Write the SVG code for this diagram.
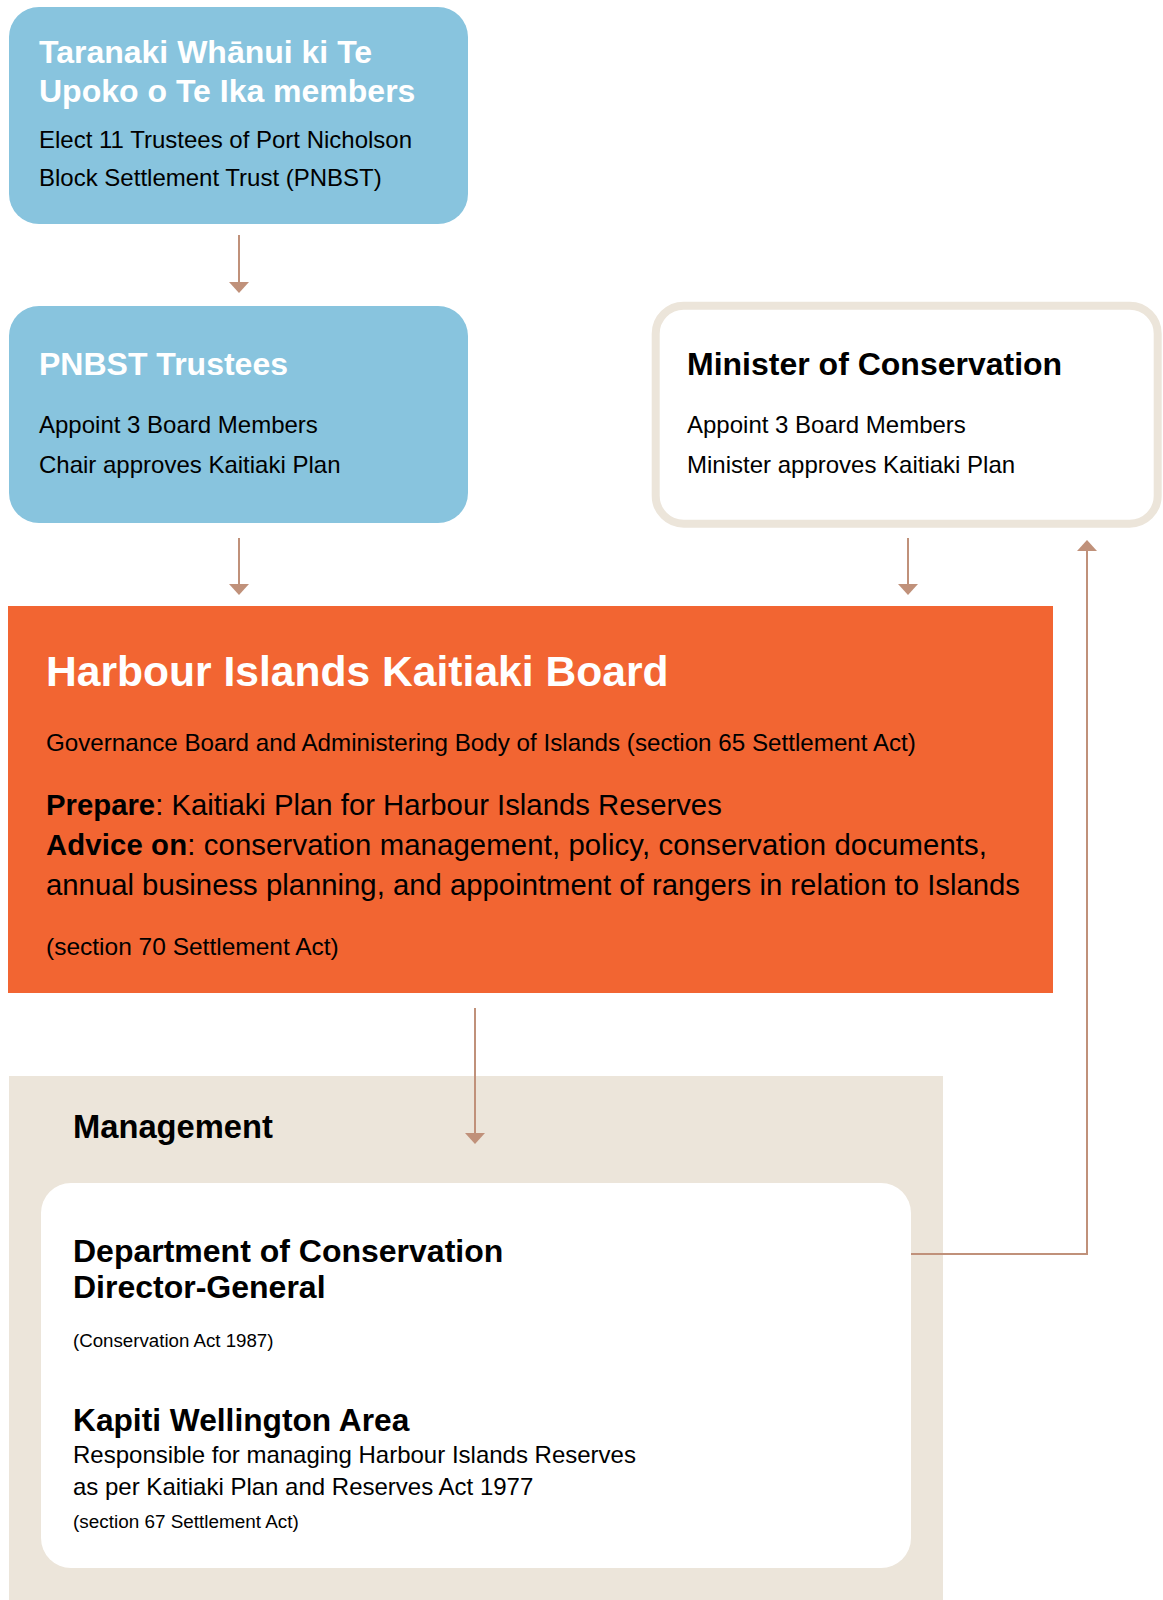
<svg xmlns="http://www.w3.org/2000/svg" width="1163" height="1600" viewBox="0 0 1163 1600">
  <defs>
    <marker id="ah" viewBox="0 0 11 20" refX="0" refY="10" markerWidth="11" markerHeight="20" markerUnits="userSpaceOnUse" orient="auto">
      <path d="M0,0 L11,10 L0,20 Z" fill="#c0917a"/>
    </marker>
    <style>
      text { font-family: "Liberation Sans", Arial, Helvetica, sans-serif; }
      .blue { fill: #88c4de; }
      .wt { fill: #ffffff; font-weight: bold; font-size: 32px; }
      .bt { fill: #000000; font-weight: bold; font-size: 32px; }
      .body { fill: #000000; font-size: 24px; }
      .small { fill: #000000; font-size: 18.7px; }
      .mid { fill: #000000; font-size: 29.3px; }
      .conn { fill: none; stroke: #c0917a; stroke-width: 2; marker-end: url(#ah); }
    </style>
  </defs>
  <rect width="1163" height="1600" fill="#ffffff"/>

  <g id="members">
    <rect class="blue" x="9" y="7" width="459" height="217" rx="30"/>
    <text class="wt" x="39" y="63">Taranaki Whānui ki Te</text>
    <text class="wt" x="39" y="102">Upoko o Te Ika members</text>
    <text class="body" x="39" y="148">Elect 11 Trustees of Port Nicholson</text>
    <text class="body" x="39" y="186">Block Settlement Trust (PNBST)</text>
  </g>

  <g id="trustees">
    <rect class="blue" x="9" y="306" width="459" height="217" rx="30"/>
    <text class="wt" x="39" y="375">PNBST Trustees</text>
    <text class="body" x="39" y="433">Appoint 3 Board Members</text>
    <text class="body" x="39" y="473">Chair approves Kaitiaki Plan</text>
  </g>

  <g id="minister">
    <rect x="655.7" y="305.7" width="502" height="218" rx="28" fill="#ffffff" stroke="#ece5da" stroke-width="8"/>
    <text class="bt" x="687" y="375">Minister of Conservation</text>
    <text class="body" x="687" y="433">Appoint 3 Board Members</text>
    <text class="body" x="687" y="473">Minister approves Kaitiaki Plan</text>
  </g>

  <g id="board">
    <rect x="8" y="606" width="1045" height="387" fill="#f26532"/>
    <text x="46" y="686" style="fill:#ffffff;font-weight:bold;font-size:42.6px">Harbour Islands Kaitiaki Board</text>
    <text class="body" x="46" y="751" style="font-size:24.2px">Governance Board and Administering Body of Islands (section 65 Settlement Act)</text>
    <text class="mid" x="46" y="815"><tspan font-weight="bold">Prepare</tspan>: Kaitiaki Plan for Harbour Islands Reserves</text>
    <text class="mid" x="46" y="855" textLength="941"><tspan font-weight="bold">Advice on</tspan>: conservation management, policy, conservation documents,</text>
    <text class="mid" x="46" y="895">annual business planning, and appointment of rangers in relation to Islands</text>
    <text class="body" x="46" y="955" style="font-size:24.5px">(section 70 Settlement Act)</text>
  </g>

  <g id="management">
    <rect x="9" y="1076" width="934" height="524" fill="#ece5da"/>
    <text class="bt" x="73" y="1138" style="font-size:32.7px">Management</text>
  </g>

  <g id="doc">
    <rect x="41" y="1183" width="870" height="385" rx="30" fill="#ffffff"/>
    <text class="bt" x="73" y="1262">Department of Conservation</text>
    <text class="bt" x="73" y="1298">Director-General</text>
    <text class="small" x="73" y="1347">(Conservation Act 1987)</text>
    <text class="bt" x="73" y="1431" style="font-size:31.7px">Kapiti Wellington Area</text>
    <text class="body" x="73" y="1463">Responsible for managing Harbour Islands Reserves</text>
    <text class="body" x="73" y="1495">as per Kaitiaki Plan and Reserves Act 1977</text>
    <text class="small" x="73" y="1528" style="font-size:18.9px">(section 67 Settlement Act)</text>
  </g>

  <g id="connectors">
    <path class="conn" d="M239,235 V282"/>
    <path class="conn" d="M239,538 V584"/>
    <path class="conn" d="M908,538 V584"/>
    <path class="conn" d="M475,1008 V1133"/>
    <path class="conn" d="M911,1254 H1087 V551"/>
  </g>
</svg>
